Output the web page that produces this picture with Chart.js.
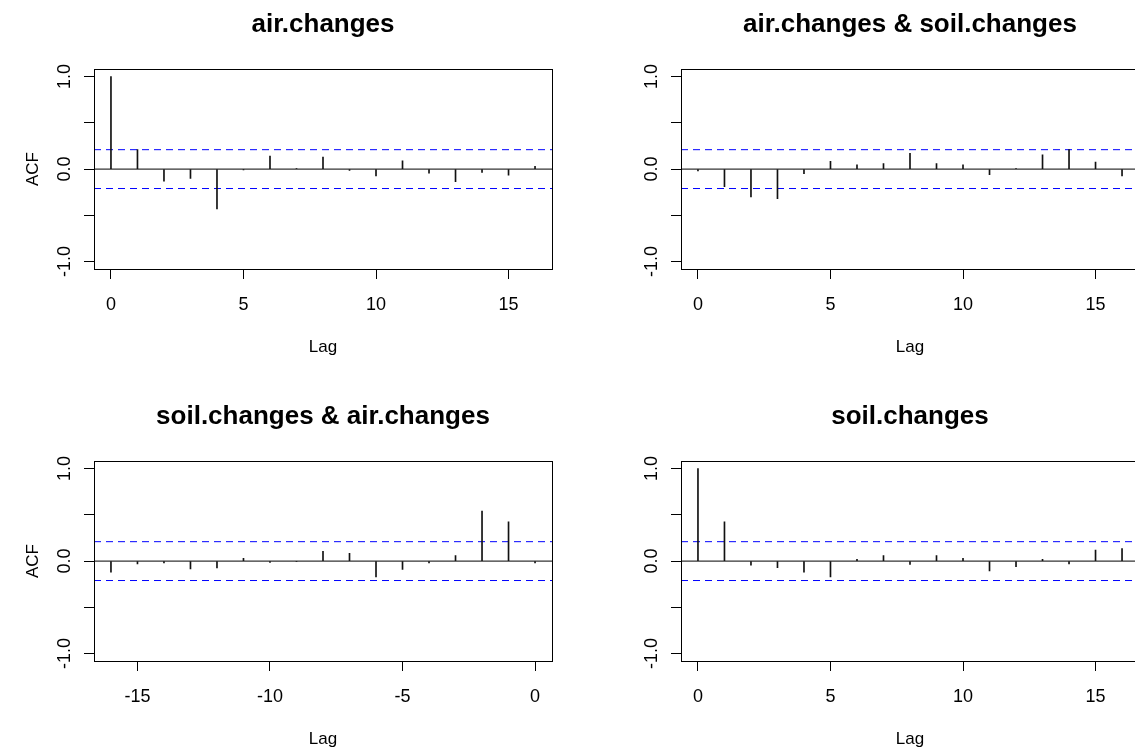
<!DOCTYPE html>
<html>
<head>
<meta charset="utf-8">
<script src="https://cdn.jsdelivr.net/npm/chart.js@4.4.1/dist/chart.umd.min.js"></script>
<style>
  html, body { margin: 0; padding: 0; background: #fff; overflow: hidden; }
  body { width: 1135px; height: 749px; position: relative; }
  canvas { position: absolute; }
</style>
</head>
<body>
<canvas id="c1" width="567" height="380" style="left:0px;top:0px"></canvas>
<canvas id="c2" width="590" height="380" style="left:567px;top:0px"></canvas>
<canvas id="c3" width="567" height="380" style="left:0px;top:392px"></canvas>
<canvas id="c4" width="590" height="380" style="left:567px;top:392px"></canvas>
<script>
// lags
const lagsPos = [0, 1, 2, 3, 4, 5, 6, 7, 8, 9, 10, 11, 12, 13, 14, 15, 16];
const lagsNeg = [-16, -15, -14, -13, -12, -11, -10, -9, -8, -7, -6, -5, -4, -3, -2, -1, 0];

// acf / ccf values
const airAcf = [1.0, 0.21, -0.13, -0.1, -0.43, -0.01, 0.14, 0.005, 0.13, -0.015, -0.075, 0.09, -0.045, -0.135, -0.035, -0.065, 0.03];
const airSoilCcf = [-0.02, -0.19, -0.3, -0.32, -0.05, 0.085, 0.045, 0.06, 0.17, 0.06, 0.045, -0.06, 0.005, 0.155, 0.21, 0.075, -0.075];
const soilAirCcf = [-0.12, -0.03, -0.02, -0.085, -0.075, 0.03, -0.015, -0.005, 0.105, 0.085, -0.17, -0.09, -0.02, 0.06, 0.54, 0.425, -0.02];
const soilAcf = [1.0, 0.425, -0.045, -0.07, -0.12, -0.17, 0.02, 0.06, -0.035, 0.06, 0.03, -0.105, -0.06, 0.02, -0.03, 0.12, 0.135];

// 95% bound
const ciBound = 0.21;

// ticks
const yTicks = [-1, -0.5, 0, 0.5, 1];
const yTickLabels = ["-1.0", "", "0.0", "", "1.0"];
const xTicksPos = [0, 5, 10, 15];
const xTicksNeg = [-15, -10, -5, 0];

Chart.defaults.font.family = "'Liberation Sans', Arial, sans-serif";
Chart.defaults.color = "#000";

const boxPlugin = {
  id: "box",
  afterDraw(chart) {
    const { ctx, chartArea: a } = chart;
    ctx.save();
    ctx.strokeStyle = "#000";
    ctx.lineWidth = 1;
    ctx.strokeRect(Math.round(a.left) + 0.5, Math.round(a.top) + 0.5, Math.round(a.width), Math.round(a.height));
    ctx.restore();
  },
};

function hLine(label, xMin, xMax, y, color, dash, order) {
  return {
    type: "line",
    label: label,
    data: [{ x: xMin, y: y }, { x: xMax, y: y }],
    borderColor: color,
    backgroundColor: color,
    borderWidth: 1,
    borderDash: dash,
    pointRadius: 0,
    fill: false,
    order: order,
  };
}

function makePanel(id, title, lags, values, xTicks, showYTitle, yWidth, padRight) {
  // R pads the range by 4% on each side
  const span = lags[lags.length - 1] - lags[0];
  const xMin = lags[0] - span * 0.04;
  const xMax = lags[lags.length - 1] + span * 0.04;

  new Chart(document.getElementById(id), {
    type: "bar",
    data: {
      datasets: [
        {
          label: "acf",
          data: lags.map((l, i) => ({ x: l, y: values[i] })),
          backgroundColor: "#111",
          barThickness: 1,
          order: 1,
        },
        hLine("zero", xMin, xMax, 0, "#000", [], 2),
        hLine("upper", xMin, xMax, ciBound, "rgb(0,0,255)", [7, 5], 3),
        hLine("lower", xMin, xMax, -ciBound, "rgb(0,0,255)", [7, 5], 4),
      ],
    },
    options: {
      responsive: false,
      animation: false,
      layout: { padding: { left: 0, right: padRight, top: 0, bottom: 0 } },
      plugins: {
        legend: { display: false },
        tooltip: { enabled: false },
        title: {
          display: true,
          text: title,
          fullSize: false,
          font: { size: 26, weight: "bold" },
          padding: { top: 9, bottom: 29 },
        },
      },
      scales: {
        x: {
          type: "linear",
          min: xMin,
          max: xMax,
          offset: false,
          grid: { offset: false, drawOnChartArea: false, drawTicks: true, tickLength: 10, color: "#000" },
          border: { display: false },
          afterBuildTicks: (s) => { s.ticks = xTicks.map((v) => ({ value: v })); },
          afterFit: (s) => { s.height = 111; },
          ticks: { font: { size: 18 }, padding: 15, autoSkip: false, maxRotation: 0, callback: (v) => String(v) },
          title: { display: true, text: "Lag", font: { size: 17 }, padding: { top: 0, bottom: 22 } },
        },
        y: {
          min: -1.08,
          max: 1.08,
          grid: { drawOnChartArea: false, drawTicks: true, tickLength: 10, color: "#000" },
          border: { display: false },
          afterBuildTicks: (s) => { s.ticks = yTicks.map((v) => ({ value: v })); },
          afterFit: (s) => { s.width = yWidth; },
          ticks: {
            font: { size: 18 },
            padding: 3,
            minRotation: 90,
            maxRotation: 90,
            crossAlign: "center",
            autoSkip: false,
            callback: (v, i) => yTickLabels[i],
          },
          title: { display: showYTitle, text: "ACF", font: { size: 17 }, padding: { top: 23, bottom: 0 } },
        },
      },
    },
    plugins: [boxPlugin],
  });
}

makePanel("c1", "air.changes", lagsPos, airAcf, xTicksPos, true, 94, 15);
makePanel("c2", "air.changes & soil.changes", lagsPos, airSoilCcf, xTicksPos, false, 114, 18);
makePanel("c3", "soil.changes & air.changes", lagsNeg, soilAirCcf, xTicksNeg, true, 94, 15);
makePanel("c4", "soil.changes", lagsPos, soilAcf, xTicksPos, false, 114, 18);
</script>
</body>
</html>
